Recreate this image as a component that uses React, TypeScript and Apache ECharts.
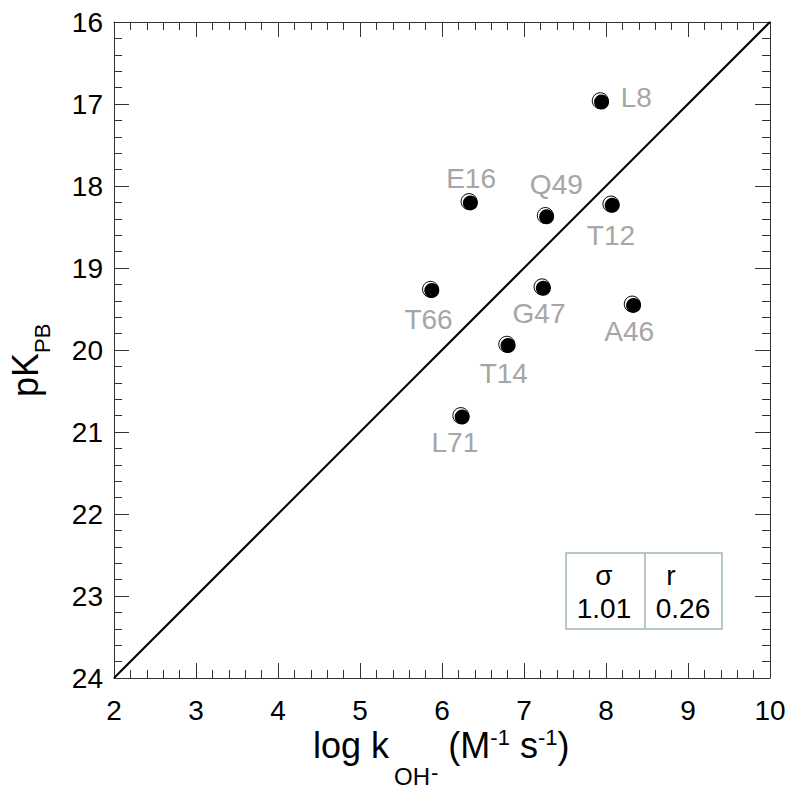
import React, { useEffect, useRef } from "react";
import * as echarts from "echarts";

// ---- data ----
const residues = ["L8", "E16", "Q49", "T12", "T66", "G47", "A46", "T14", "L71"];
const logKOH = [7.93, 6.33, 7.26, 8.06, 5.86, 7.22, 8.32, 6.79, 6.23];
const pKPB = [16.96, 18.19, 18.36, 18.22, 19.26, 19.23, 19.44, 19.93, 20.8];
const lineX = [2, 10];
const lineY = [24, 16];
const statHeaders = ["σ", "r"];
const statValues = ["1.01", "0.26"];

// label placement (style, px offsets from point centre)
const labelOffsets: [number, number][] = [
  [36, -3],
  [2, -23],
  [11, -31],
  [0, 31],
  [-2, 30],
  [-3, 27],
  [-3, 27],
  [-3, 29],
  [-6, 27],
];

const FONT = "'Liberation Sans', Arial, Helvetica, sans-serif";

function measure(t: string, size: number): number {
  const c = document.createElement("canvas").getContext("2d");
  if (!c) return t.length * size * 0.55;
  c.font = `${size}px 'Liberation Sans'`;
  return c.measureText(t).width;
}

// text placed by alphabetic baseline, using ECharts "middle" (central) alignment
function textAt(t: string, size: number, x: number, baseline: number, color = "#000") {
  return {
    type: "text",
    x,
    y: baseline - 0.3465 * size,
    style: {
      text: t,
      font: `${size}px ${FONT}`,
      fill: color,
      align: "left",
      verticalAlign: "middle",
    },
    silent: true,
  };
}

export default function App() {
  const ref = useRef<HTMLDivElement>(null);

  useEffect(() => {
    if (!ref.current) return;
    const chart = echarts.init(ref.current, null, { renderer: "svg" });

    const axisColor = "#333";
    const baseAxis = {
      type: "value" as const,
      axisLine: { show: true, onZero: false, lineStyle: { color: axisColor, width: 1 } },
      axisTick: { show: true, inside: true, length: 15, lineStyle: { color: axisColor, width: 1 } },
      minorTick: { show: true, splitNumber: 5, length: 8, lineStyle: { color: axisColor, width: 1 } },
      splitLine: { show: false },
      minorSplitLine: { show: false },
    };

    // x-axis title pieces (gap = extra px before the piece)
    const B = 758;
    const xPieces: { t: string; s: number; b: number; gap: number }[] = [
      { t: "log k", s: 36, b: B, gap: 0 },
      { t: "OH", s: 24, b: B + 27, gap: 5 },
      { t: "-", s: 22, b: B + 22, gap: 1 },
      { t: " (M", s: 36, b: B, gap: 0 },
      { t: "-1", s: 22, b: B - 13, gap: 0 },
      { t: " s", s: 36, b: B, gap: 0 },
      { t: "-1", s: 22, b: B - 13, gap: 0 },
      { t: ")", s: 36, b: B, gap: 0 },
    ];
    let cx = 313;
    const xTitle: any[] = [];
    for (const p of xPieces) {
      cx += p.gap;
      xTitle.push(textAt(p.t, p.s, cx, p.b));
      cx += measure(p.t, p.s);
    }

    // y-axis title (rotated)
    const pkW = measure("pK", 36);
    const yTitle = {
      type: "group",
      x: 38,
      y: 397,
      rotation: Math.PI / 2,
      children: [textAt("pK", 36, 0, 0), textAt("PB", 22, pkW, 12)],
    };

    // stats box
    const bx = 566, by = 553, bw = 156, bh = 76, divX = 645;
    const boxColor = "#9fb5b7";
    const statBox = [
      {
        type: "rect",
        shape: { x: bx, y: by, width: bw, height: bh },
        style: { fill: "none", stroke: boxColor, lineWidth: 1.5 },
        silent: true,
      },
      {
        type: "line",
        shape: { x1: divX, y1: by, x2: divX, y2: by + bh },
        style: { stroke: boxColor, lineWidth: 1.5 },
        silent: true,
      },
      ...statHeaders.map((h, i) => ({
        type: "text",
        x: i === 0 ? 604 : 671,
        y: 575,
        style: { text: h, font: `28px ${FONT}`, fill: "#000", align: "center", verticalAlign: "middle" },
        silent: true,
      })),
      ...statValues.map((v, i) => ({
        type: "text",
        x: i === 0 ? 604 : 683,
        y: 608,
        style: { text: v, font: `28px ${FONT}`, fill: "#000", align: "center", verticalAlign: "middle" },
        silent: true,
      })),
    ];

    const points = residues.map((name, i) => ({
      name,
      value: [logKOH[i], pKPB[i]],
      label: { offset: labelOffsets[i] },
    }));

    chart.setOption({
      animation: false,
      backgroundColor: "#fff",
      textStyle: { fontFamily: FONT },
      grid: { left: 114, right: 30, top: 22, bottom: 117, containLabel: false },
      xAxis: [
        {
          ...baseAxis,
          position: "bottom",
          min: 2,
          max: 10,
          interval: 1,
          axisLabel: { show: true, fontSize: 28, color: "#000", margin: 18, fontFamily: FONT },
        },
        {
          ...baseAxis,
          position: "top",
          min: 2,
          max: 10,
          interval: 1,
          axisLabel: { show: false },
        },
      ],
      yAxis: [
        {
          ...baseAxis,
          position: "left",
          inverse: true,
          min: 16,
          max: 24,
          interval: 1,
          axisLabel: { show: true, fontSize: 28, color: "#000", margin: 11, fontFamily: FONT },
        },
        {
          ...baseAxis,
          position: "right",
          inverse: true,
          min: 16,
          max: 24,
          interval: 1,
          axisLabel: { show: false },
        },
      ],
      series: [
        {
          type: "line",
          data: lineX.map((x, i) => [x, lineY[i]]),
          symbol: "none",
          lineStyle: { color: "#000", width: 2 },
          silent: true,
          z: 1,
        },
        {
          type: "scatter",
          data: points,
          symbol: "circle",
          symbolSize: 16,
          itemStyle: { color: "#fff", borderColor: "#000", borderWidth: 1, opacity: 1 },
          label: {
            show: true,
            position: "inside",
            formatter: "{b}",
            fontSize: 28,
            fontFamily: FONT,
            color: "#a6a6a6",
            align: "center",
            verticalAlign: "middle",
          },
          z: 2,
        },
        {
          type: "scatter",
          data: logKOH.map((x, i) => [x, pKPB[i]]),
          symbol: "circle",
          symbolSize: 15,
          symbolOffset: [1.3, 1.3],
          itemStyle: { color: "#000", opacity: 1 },
          z: 3,
        },
      ],
      graphic: [...xTitle, yTitle, ...statBox],
    });

    return () => chart.dispose();
  }, []);

  return (
    <div
      ref={ref}
      style={{ position: "fixed", left: 0, top: 0, width: 800, height: 795, background: "#fff" }}
    />
  );
}
